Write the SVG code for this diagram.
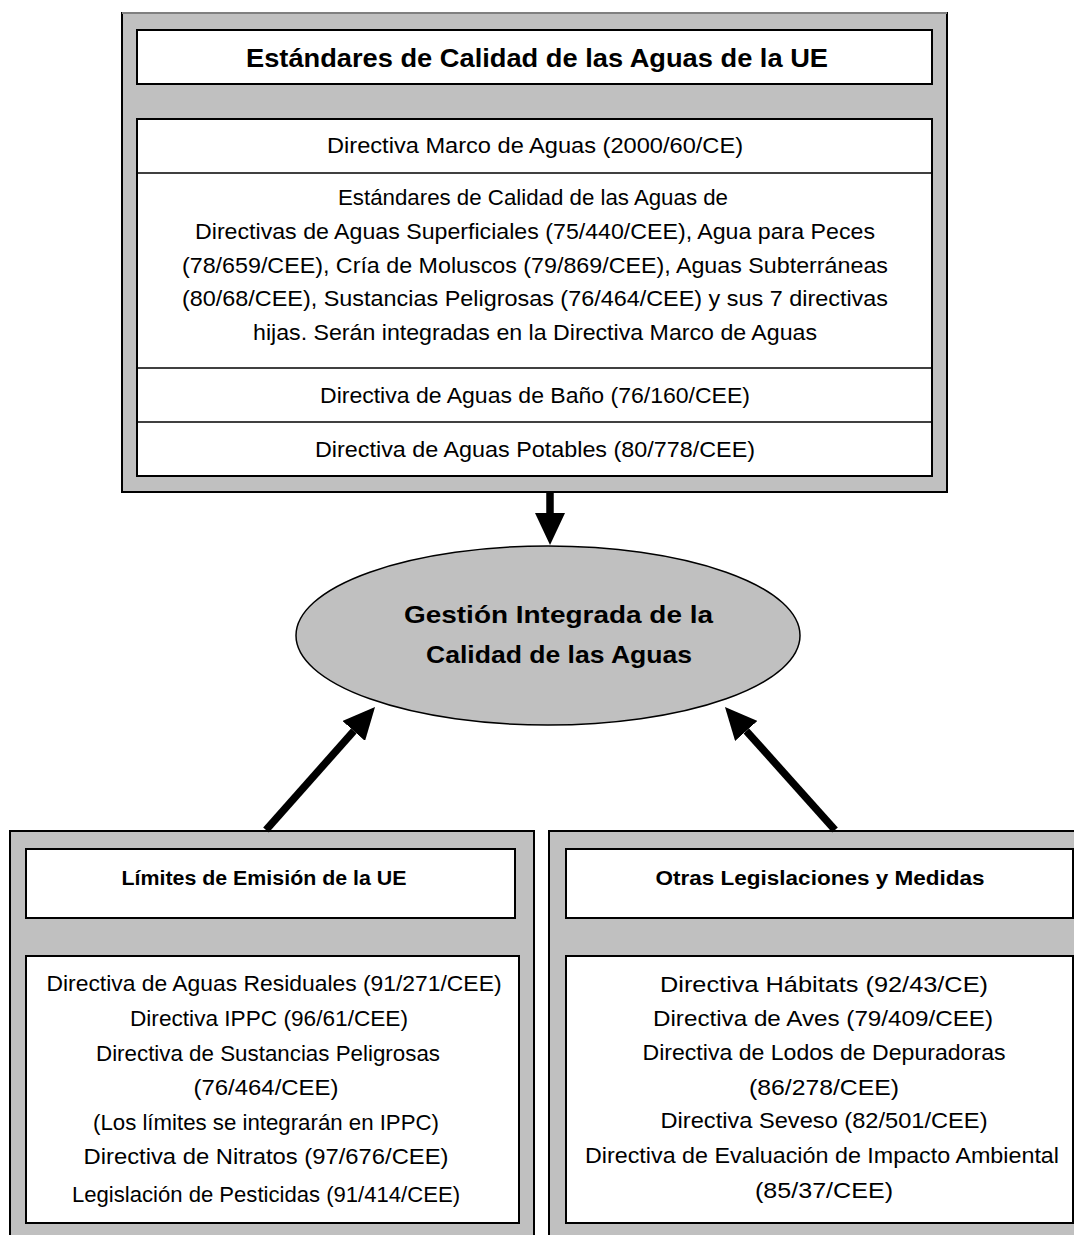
<svg xmlns="http://www.w3.org/2000/svg" width="1074" height="1235" viewBox="0 0 1074 1235">
<style>
  .outer { fill: #c0c0c0; stroke: #000; stroke-width: 2; }
  .inner { fill: #fff; stroke: #000; stroke-width: 2; }
  .sep { stroke: #000; stroke-width: 1.6; }
  .t { font-family: "Liberation Sans", Arial, sans-serif; font-size: 22px; fill: #000; text-anchor: middle; }
  .b { font-family: "Liberation Sans", Arial, sans-serif; font-weight: bold; fill: #000; text-anchor: middle; }
  .conn { stroke: #000; stroke-width: 7.5; fill: none; marker-end: url(#head); }
</style>
<defs>
  <marker id="head" viewBox="0 0 32 30" refX="0" refY="15" markerWidth="32" markerHeight="30" markerUnits="userSpaceOnUse" orient="auto">
    <path d="M0,0 L32,15 L0,30 z" fill="#000"/>
  </marker>
</defs>
<rect width="1074" height="1235" fill="#fff"/>

<g id="estandares">
  <rect class="outer" x="122" y="13" width="825" height="479"/>
  <line x1="122" y1="13" x2="947" y2="13" stroke="#808080" stroke-width="2"/>
  <rect class="inner" x="137" y="30" width="795" height="54"/>
  <text class="b" x="537" y="67" font-size="26" textLength="582" lengthAdjust="spacingAndGlyphs">Estándares de Calidad de las Aguas de la UE</text>
  <rect class="inner" x="137" y="119" width="795" height="357"/>
  <line class="sep" x1="137" y1="173" x2="932" y2="173"/>
  <line class="sep" x1="137" y1="368" x2="932" y2="368"/>
  <line class="sep" x1="137" y1="422" x2="932" y2="422"/>
  <text class="t" x="535" y="153" textLength="416" lengthAdjust="spacingAndGlyphs">Directiva Marco de Aguas (2000/60/CE)</text>
  <text class="t" x="533" y="205" textLength="390" lengthAdjust="spacingAndGlyphs">Estándares de Calidad de las Aguas de</text>
  <text class="t" x="535" y="239" textLength="680" lengthAdjust="spacingAndGlyphs">Directivas de Aguas Superficiales (75/440/CEE), Agua para Peces</text>
  <text class="t" x="535" y="273" textLength="706" lengthAdjust="spacingAndGlyphs">(78/659/CEE), Cría de Moluscos (79/869/CEE), Aguas Subterráneas</text>
  <text class="t" x="535" y="306" textLength="706" lengthAdjust="spacingAndGlyphs">(80/68/CEE), Sustancias Peligrosas (76/464/CEE) y sus 7 directivas</text>
  <text class="t" x="535" y="340" textLength="564" lengthAdjust="spacingAndGlyphs">hijas. Serán integradas en la Directiva Marco de Aguas</text>
  <text class="t" x="535" y="403" textLength="430" lengthAdjust="spacingAndGlyphs">Directiva de Aguas de Baño (76/160/CEE)</text>
  <text class="t" x="535" y="457" textLength="440" lengthAdjust="spacingAndGlyphs">Directiva de Aguas Potables (80/778/CEE)</text>
</g>

<g id="gestion">
  <ellipse cx="548" cy="635.5" rx="252" ry="89.5" fill="#c0c0c0" stroke="#000" stroke-width="1.5"/>
  <text class="b" x="558.5" y="623" font-size="24" textLength="309" lengthAdjust="spacingAndGlyphs">Gestión Integrada de la</text>
  <text class="b" x="559" y="663" font-size="24" textLength="266" lengthAdjust="spacingAndGlyphs">Calidad de las Aguas</text>
</g>

<g id="limites">
  <rect class="outer" x="10" y="831" width="524" height="420"/>
  <rect class="inner" x="26" y="849" width="489" height="69"/>
  <text class="b" x="264" y="885" font-size="20" textLength="285" lengthAdjust="spacingAndGlyphs">Límites de Emisión de la UE</text>
  <rect class="inner" x="26" y="956" width="493" height="267"/>
  <text class="t" x="274" y="991" textLength="455" lengthAdjust="spacingAndGlyphs">Directiva de Aguas Residuales (91/271/CEE)</text>
  <text class="t" x="269" y="1026" textLength="278" lengthAdjust="spacingAndGlyphs">Directiva IPPC (96/61/CEE)</text>
  <text class="t" x="268" y="1061" textLength="344" lengthAdjust="spacingAndGlyphs">Directiva de Sustancias Peligrosas</text>
  <text class="t" x="266" y="1095" textLength="145" lengthAdjust="spacingAndGlyphs">(76/464/CEE)</text>
  <text class="t" x="266" y="1130" textLength="346" lengthAdjust="spacingAndGlyphs">(Los límites se integrarán en IPPC)</text>
  <text class="t" x="266" y="1164" textLength="365" lengthAdjust="spacingAndGlyphs">Directiva de Nitratos (97/676/CEE)</text>
  <text class="t" x="266" y="1202" textLength="388" lengthAdjust="spacingAndGlyphs">Legislación de Pesticidas (91/414/CEE)</text>
</g>

<g id="otras">
  <rect class="outer" x="549" y="831" width="540" height="420"/>
  <rect class="inner" x="566" y="849" width="507" height="69"/>
  <text class="b" x="820" y="885" font-size="20" textLength="329" lengthAdjust="spacingAndGlyphs">Otras Legislaciones y Medidas</text>
  <rect class="inner" x="566" y="956" width="507" height="267"/>
  <text class="t" x="824" y="992" textLength="328" lengthAdjust="spacingAndGlyphs">Directiva Hábitats (92/43/CE)</text>
  <text class="t" x="823" y="1026" textLength="340" lengthAdjust="spacingAndGlyphs">Directiva de Aves (79/409/CEE)</text>
  <text class="t" x="824" y="1060" textLength="363" lengthAdjust="spacingAndGlyphs">Directiva de Lodos de Depuradoras</text>
  <text class="t" x="824" y="1095" textLength="150" lengthAdjust="spacingAndGlyphs">(86/278/CEE)</text>
  <text class="t" x="824" y="1128" textLength="327" lengthAdjust="spacingAndGlyphs">Directiva Seveso (82/501/CEE)</text>
  <text class="t" x="822" y="1163" textLength="474" lengthAdjust="spacingAndGlyphs">Directiva de Evaluación de Impacto Ambiental</text>
  <text class="t" x="824" y="1198" textLength="138" lengthAdjust="spacingAndGlyphs">(85/37/CEE)</text>
</g>

<g id="connectors">
  <line class="conn" x1="550" y1="492" x2="550" y2="513"/>
  <line class="conn" x1="266" y1="830" x2="353.8" y2="731"/>
  <line class="conn" x1="835" y1="830" x2="746.3" y2="730.9"/>
</g>
</svg>
